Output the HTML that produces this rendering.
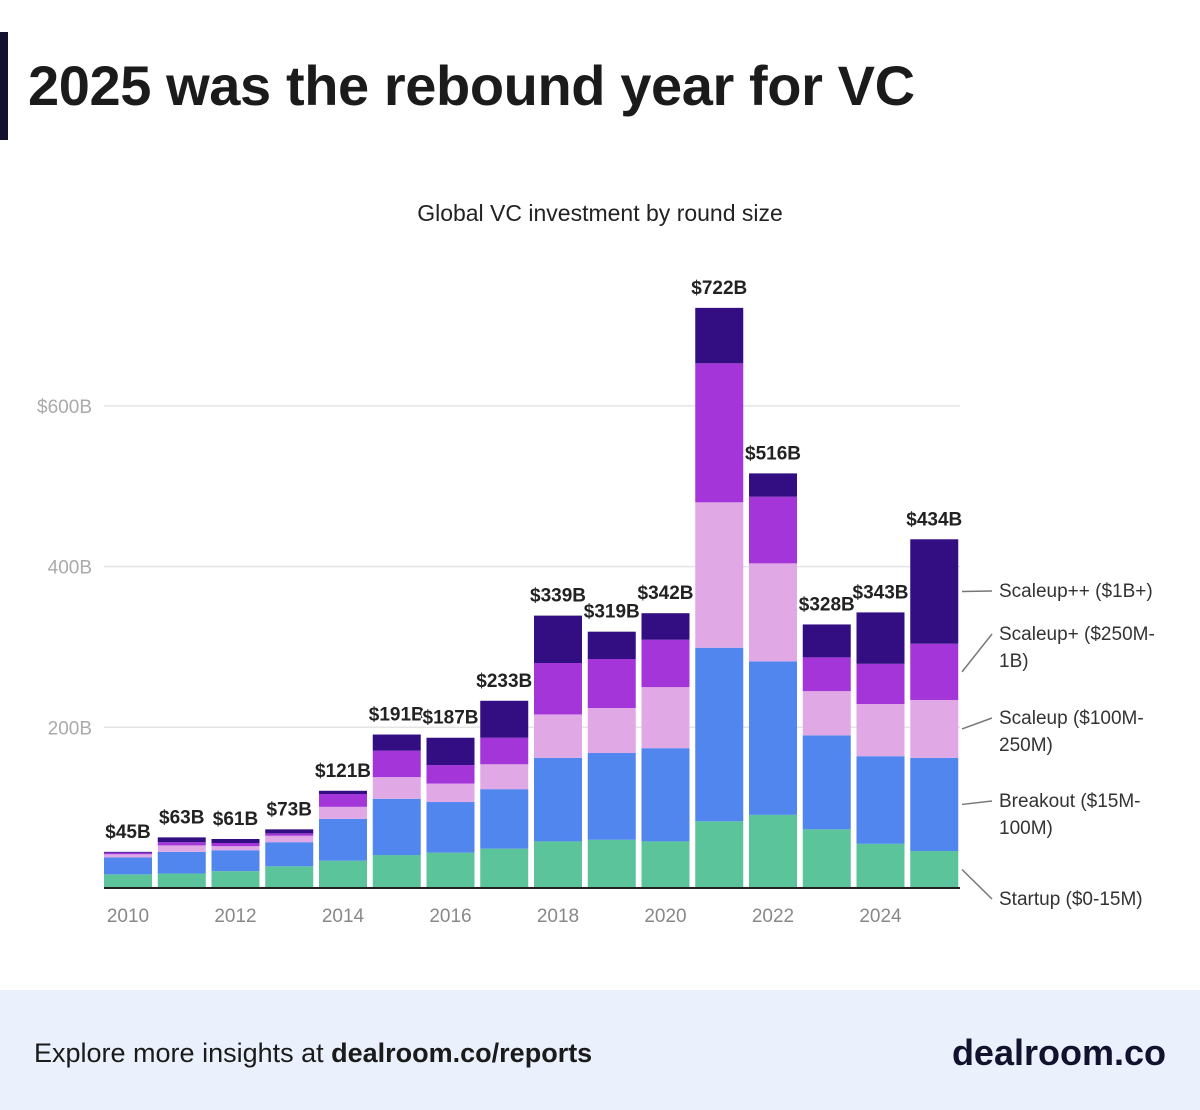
<!DOCTYPE html>
<html><head><meta charset="utf-8">
<style>
body{margin:0;width:1200px;height:1110px;background:#fff;font-family:"Liberation Sans",sans-serif;overflow:hidden;position:relative}
#title-bar{position:absolute;left:0;top:32px;width:8px;height:108px;background:#12112e}
#title{position:absolute;left:28px;top:53px;font-size:56px;font-weight:bold;color:#1b1b1b;margin:0;letter-spacing:-0.4px}
#footer{position:absolute;left:0;top:990px;width:1200px;height:120px;background:#eaf1fc}
#footer-text{position:absolute;left:34px;top:1038px;font-size:27px;color:#1b1b1b}
#brand{position:absolute;right:34px;top:1032px;font-size:36px;font-weight:bold;color:#12112e}
svg{position:absolute;left:0;top:0}
</style></head><body>
<div id="title-bar"></div>
<h1 id="title">2025 was the rebound year for VC</h1>
<svg id="chart" width="1200" height="990"></svg>
<div id="footer"></div>
<div id="footer-text">Explore more insights at <b>dealroom.co/reports</b></div>
<div id="brand">dealroom.co</div>
<script>
const years=[2010,2011,2012,2013,2014,2015,2016,2017,2018,2019,2020,2021,2022,2023,2024,2025];
const startup=[17,18,21,27,34,41,44,49,58,60,58,83,91,73,55,46];
const breakout=[21,27,26,30,52,70,63,74,104,108,116,216,191,117,109,116];
const scaleup=[4,8,5,8,15,27,23,31,54,56,76,181,122,55,65,72];
const scaleupPlus=[2,4,4,3,16,33,23,33,64,61,59,173,83,42,50,70];
const scaleupPP=[1,6,5,5,4,20,34,46,59,34,33,69,29,41,64,130];
const totalLabels=["$45B","$63B","$61B","$73B","$121B","$191B","$187B","$233B","$339B","$319B","$342B","$722B","$516B","$328B","$343B","$434B"];
const yTicks=[200,400,600];
const yTickLabels=["200B","400B","$600B"];
const seriesNames=["Startup ($0-15M)","Breakout ($15M-|100M)","Scaleup ($100M-|250M)","Scaleup+ ($250M-|1B)","Scaleup++ ($1B+)"];
const colors=["#5cc49a","#5186ee","#e0a9e6","#a335d9","#330d82"];
const series=[startup,breakout,scaleup,scaleupPlus,scaleupPP];
const svg=document.getElementById('chart');const NS='http://www.w3.org/2000/svg';
const y0=888,k=0.8035,x0=128,step=53.75,bw=48;
const Y=v=>y0-v*k, X=i=>x0+i*step;
function el(t,a){const e=document.createElementNS(NS,t);for(const n in a)e.setAttribute(n,a[n]);svg.appendChild(e);return e;}
const st=el('text',{x:600,y:221,'text-anchor':'middle','font-size':23,fill:'#222'});st.textContent='Global VC investment by round size';


yTicks.forEach((t,i)=>{
 const g=el('line',{x1:104,x2:960,y1:Y(t),y2:Y(t),stroke:'#e4e4e4','stroke-width':1.5});
 
 
 const l=el('text',{x:92,y:Y(t)+7,'text-anchor':'end','font-size':19,fill:'#aaa'});l.textContent=yTickLabels[i];
 
 
});
years.forEach((yr,i)=>{
 let acc=0;
 series.forEach((s,j)=>{
  const r=el('rect',{x:X(i)-bw/2,y:Y(acc+s[i]),width:bw,height:s[i]*k,fill:colors[j]});
  
  
  acc+=s[i];
 });
 const t=el('text',{x:X(i),y:Y(acc)-14,'text-anchor':'middle','font-size':19,'font-weight':'bold',fill:'#222',stroke:'#fff','stroke-width':4,'paint-order':'stroke'});
 t.textContent=totalLabels[i];
 
 
 if(yr%2===0){const xl=el('text',{x:X(i),y:922,'text-anchor':'middle','font-size':19,fill:'#888'});xl.textContent=yr;
  
  }
});
const ax=el('line',{x1:104,x2:960,y1:y0,y2:y0,stroke:'#222','stroke-width':2});


const li=years.length-1;let acc=0;
const labelY=[905,807,724,640,597];
series.forEach((s,j)=>{
 const mid=Y(acc+s[li]/2);acc+=s[li];
 const ln=el('line',{x1:962,y1:mid,x2:992,y2:labelY[j]-6,stroke:'#777','stroke-width':1.5});
 
 
 const parts=seriesNames[j].split('|');
 const t=el('text',{x:999,y:labelY[j],'font-size':19,fill:'#333'});
 
 
 parts.forEach((p,pi)=>{const ts=document.createElementNS(NS,'tspan');ts.setAttribute('x',999);ts.setAttribute('dy',pi?27:0);ts.textContent=p;t.appendChild(ts);});
});
</script>
</body></html>
